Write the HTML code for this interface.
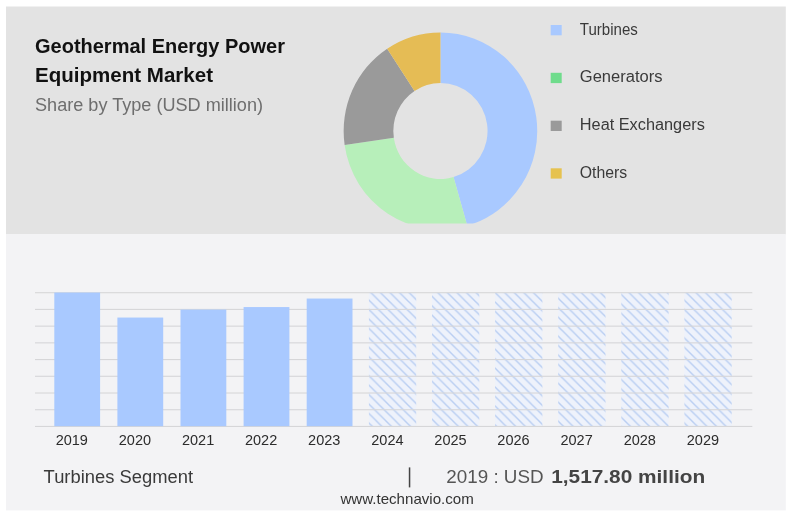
<!DOCTYPE html>
<html lang="en"><head><meta charset="utf-8"><title>Geothermal Energy Power Equipment Market</title>
<style>
html,body{margin:0;padding:0;background:#fff;}
body{width:805px;height:517px;overflow:hidden;}
svg{display:block;}
text{font-family:"Liberation Sans",sans-serif;}
.b{font-weight:bold;}
</style></head><body>
<svg width="805" height="517" viewBox="0 0 805 517">
<defs>
<pattern id="hatch" width="9.56" height="9.45" patternUnits="userSpaceOnUse" patternTransform="translate(7.46 9)">
<rect width="9.56" height="9.45" fill="#eef2fb"/>
<path d="M-9.56 -9.45L19.12 18.9M-9.56 0L9.56 18.9M0 -9.45L19.12 9.45" stroke="#b9cef2" stroke-width="1.4" fill="none"/>
</pattern>
<clipPath id="dc"><rect x="300" y="0" width="300" height="223.5"/></clipPath>
</defs>

<rect x="6" y="6.5" width="779.8" height="228" fill="#e3e3e3"/>
<rect x="6" y="234.2" width="779.8" height="276.2" fill="#f3f3f5"/>
<g clip-path="url(#dc)">
<path d="M440.45 32.40A96.8 98.6 0 0 1 467.26 225.74L453.50 177.12A47.1 48.0 0 0 0 440.45 83.00Z" fill="#a9c9ff"/>
<path d="M467.26 225.74A96.8 98.6 0 0 1 344.63 144.98L393.83 137.80A47.1 48.0 0 0 0 453.50 177.12Z" fill="#b7efba"/>
<path d="M344.63 144.98A96.8 98.6 0 0 1 387.19 48.67L414.52 90.93A47.1 48.0 0 0 0 393.83 137.80Z" fill="#9a9a9a"/>
<path d="M387.19 48.67A96.8 98.6 0 0 1 440.45 32.40L440.45 83.00A47.1 48.0 0 0 0 414.52 90.93Z" fill="#e5bc55"/>
</g>
<rect x="550.7" y="25" width="11" height="10.3" fill="#a9c9ff"/>
<text x="579.8" y="34.5" font-size="16" fill="#3a3a3a" textLength="58" lengthAdjust="spacingAndGlyphs">Turbines</text>
<rect x="550.7" y="72.8" width="11" height="10.3" fill="#6fdc8c"/>
<text x="579.8" y="82.4" font-size="16" fill="#3a3a3a" textLength="82.7" lengthAdjust="spacingAndGlyphs">Generators</text>
<rect x="550.7" y="120.7" width="11" height="10.3" fill="#9a9a9a"/>
<text x="579.8" y="129.8" font-size="16" fill="#3a3a3a" textLength="125" lengthAdjust="spacingAndGlyphs">Heat Exchangers</text>
<rect x="550.7" y="168.3" width="11" height="10.3" fill="#e6c24f"/>
<text x="579.8" y="177.5" font-size="16" fill="#3a3a3a" textLength="47.4" lengthAdjust="spacingAndGlyphs">Others</text>
<text class="b" x="35" y="53.3" font-size="19.6" fill="#111" textLength="250" lengthAdjust="spacingAndGlyphs">Geothermal Energy Power</text>
<text class="b" x="35" y="81.7" font-size="19.6" fill="#111" textLength="178" lengthAdjust="spacingAndGlyphs">Equipment Market</text>
<text x="35" y="110.7" font-size="17.5" fill="#6e6e6e" textLength="228" lengthAdjust="spacingAndGlyphs">Share by Type (USD million)</text>
<rect x="368.9" y="292.7" width="47.300000000000004" height="133.8" fill="url(#hatch)"/>
<rect x="432.0" y="292.7" width="47.300000000000004" height="133.8" fill="url(#hatch)"/>
<rect x="495.1" y="292.7" width="47.300000000000004" height="133.8" fill="url(#hatch)"/>
<rect x="558.2" y="292.7" width="47.300000000000004" height="133.8" fill="url(#hatch)"/>
<rect x="621.3" y="292.7" width="47.300000000000004" height="133.8" fill="url(#hatch)"/>
<rect x="684.4" y="292.7" width="47.300000000000004" height="133.8" fill="url(#hatch)"/>
<rect x="35" y="292.15" width="717.3" height="1.1" fill="#d6d6d8"/>
<rect x="35" y="308.87" width="717.3" height="1.1" fill="#d6d6d8"/>
<rect x="35" y="325.59" width="717.3" height="1.1" fill="#d6d6d8"/>
<rect x="35" y="342.31" width="717.3" height="1.1" fill="#d6d6d8"/>
<rect x="35" y="359.02" width="717.3" height="1.1" fill="#d6d6d8"/>
<rect x="35" y="375.74" width="717.3" height="1.1" fill="#d6d6d8"/>
<rect x="35" y="392.46" width="717.3" height="1.1" fill="#d6d6d8"/>
<rect x="35" y="409.18" width="717.3" height="1.1" fill="#d6d6d8"/>
<rect x="35" y="425.90" width="717.3" height="1.1" fill="#d6d6d8"/>
<rect x="54.3" y="292.55" width="45.8" height="133.65" fill="#a9c9ff"/>
<rect x="117.4" y="317.55" width="45.8" height="108.65" fill="#a9c9ff"/>
<rect x="180.5" y="309.55" width="45.8" height="116.65" fill="#a9c9ff"/>
<rect x="243.6" y="307.05" width="45.8" height="119.15" fill="#a9c9ff"/>
<rect x="306.7" y="298.55" width="45.8" height="127.65" fill="#a9c9ff"/>
<text x="71.8" y="445.3" font-size="14.5" fill="#2c2c2c" text-anchor="middle">2019</text>
<text x="134.9" y="445.3" font-size="14.5" fill="#2c2c2c" text-anchor="middle">2020</text>
<text x="198.1" y="445.3" font-size="14.5" fill="#2c2c2c" text-anchor="middle">2021</text>
<text x="261.1" y="445.3" font-size="14.5" fill="#2c2c2c" text-anchor="middle">2022</text>
<text x="324.2" y="445.3" font-size="14.5" fill="#2c2c2c" text-anchor="middle">2023</text>
<text x="387.4" y="445.3" font-size="14.5" fill="#2c2c2c" text-anchor="middle">2024</text>
<text x="450.5" y="445.3" font-size="14.5" fill="#2c2c2c" text-anchor="middle">2025</text>
<text x="513.5" y="445.3" font-size="14.5" fill="#2c2c2c" text-anchor="middle">2026</text>
<text x="576.6" y="445.3" font-size="14.5" fill="#2c2c2c" text-anchor="middle">2027</text>
<text x="639.8" y="445.3" font-size="14.5" fill="#2c2c2c" text-anchor="middle">2028</text>
<text x="702.9" y="445.3" font-size="14.5" fill="#2c2c2c" text-anchor="middle">2029</text>
<text x="43.6" y="482.9" font-size="17.6" fill="#3a3a3a" textLength="149.4" lengthAdjust="spacingAndGlyphs">Turbines Segment</text>
<rect x="408.8" y="467.4" width="1.5" height="20" fill="#444"/>
<text x="446.3" y="482.8" font-size="17.5" fill="#555" textLength="97.3" lengthAdjust="spacingAndGlyphs">2019 : USD</text>
<text class="b" x="551.2" y="482.8" font-size="17.5" fill="#444" textLength="154" lengthAdjust="spacingAndGlyphs">1,517.80 million</text>
<text x="340.4" y="503.9" font-size="14.5" fill="#333" textLength="133.4" lengthAdjust="spacingAndGlyphs">www.technavio.com</text>
</svg></body></html>
